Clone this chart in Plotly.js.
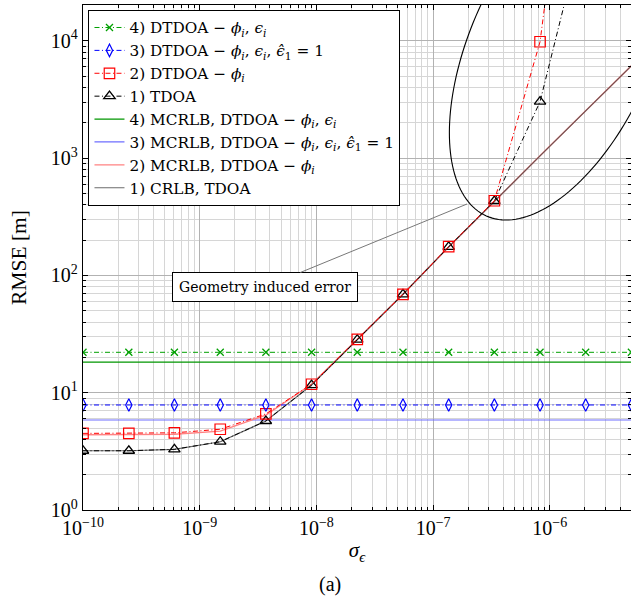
<!DOCTYPE html>
<html>
<head>
<meta charset="utf-8">
<script src="https://cdn.plot.ly/plotly-3.0.1.min.js"></script>
<style>html,body{margin:0;padding:0;background:#fff;overflow:hidden}#chart{width:631px;height:606px}</style>
</head>
<body>
<div id="chart"></div>
<script>
// ---- data ----
const sigma = [1e-10, 2.47e-10, 6.07e-10, 1.50e-9, 3.69e-9, 9.09e-9, 2.24e-8, 5.52e-8, 1.36e-7, 3.35e-7, 8.25e-7, 2.03e-6, 5.0e-6];
const dtdoa4 = [22.1, 22.1, 22.1, 22.1, 22.1, 22.1, 22.1, 22.1, 22.1, 22.1, 22.1, 22.1, 22.1];
const dtdoa3 = [7.86, 7.86, 7.86, 7.86, 7.86, 7.86, 7.86, 7.86, 7.86, 7.86, 7.86, 7.86, 7.86];
const dtdoa2 = [4.5, 4.5, 4.55, 4.88, 6.6, 11.8, 28.5, 69, 176, 433, 9820, 1.0e7];
const tdoa1 = [3.2, 3.2, 3.29, 3.82, 5.74, 11.6, 28.3, 69, 175, 431, 3030, 1.1e5];
const mcrlb4 = [18.2, 18.2, 18.2, 18.2, 18.2, 18.2, 18.2, 18.2, 18.2, 18.2, 18.2, 18.2, 18.2];
const mcrlb3 = [5.85, 5.85, 5.85, 5.85, 5.85, 5.85, 5.85, 5.85, 5.85, 5.85, 5.85, 5.85, 5.85];
const mcrlb2 = [4.38, 4.38, 4.42, 4.7, 6.45, 11.8, 28.3, 69, 175, 431, 1045, 2530, 6120];
const crlb1 = [3.2, 3.2, 3.29, 3.82, 5.74, 11.6, 28.3, 69, 175, 431, 1045, 2530, 6120];
const xTickVals = [1e-10, 1e-9, 1e-8, 1e-7, 1e-6];
const xTickText = ['10<sup>−10</sup>', '10<sup>−9</sup>', '10<sup>−8</sup>', '10<sup>−7</sup>', '10<sup>−6</sup>'];
const yTickVals = [1, 10, 100, 1000, 10000];
const yTickText = ['10<sup>0</sup>', '10<sup>1</sup>', '10<sup>2</sup>', '10<sup>3</sup>', '10<sup>4</sup>'];
const HAT = '<i>ϵ̂</i><sub>1</sub>';
const names = {
  d4: '4) DTDOA − <i>ϕ</i><sub><i>i</i></sub>, <i>ϵ</i><sub><i>i</i></sub>',
  d3: '3) DTDOA − <i>ϕ</i><sub><i>i</i></sub>, <i>ϵ</i><sub><i>i</i></sub>, ' + HAT + ' = 1',
  d2: '2) DTDOA − <i>ϕ</i><sub><i>i</i></sub>',
  t1: '1) TDOA',
  m4: '4) MCRLB, DTDOA − <i>ϕ</i><sub><i>i</i></sub>, <i>ϵ</i><sub><i>i</i></sub>',
  m3: '3) MCRLB, DTDOA − <i>ϕ</i><sub><i>i</i></sub>, <i>ϵ</i><sub><i>i</i></sub>, ' + HAT + ' = 1',
  m2: '2) MCRLB, DTDOA − <i>ϕ</i><sub><i>i</i></sub>',
  c1: '1) CRLB, TDOA'
};

// ---- layout constants ----
const FONT = '"Liberation Serif", serif';
const FONT2 = '"DejaVu Serif", serif';
const M = {l: 83, r: 0, t: 5, b: 96};
const W = 631, H = 606;
const xr = [-10, -10 + (W - M.l - M.r) / 116.7];
const yr = [0, (H - M.t - M.b) / 117.3];
const pw = W - M.l - M.r, ph = H - M.t - M.b;
function px2x(px) { return Math.pow(10, xr[0] + (px - M.l) / pw * (xr[1] - xr[0])); }
function py2y(py) { return Math.pow(10, yr[0] + (M.t + ph - py) / ph * (yr[1] - yr[0])); }

const DD = '5px,2.5px,1px,2.5px';
const traces = [
  {x: sigma, y: mcrlb4, name: names.m4, legendrank: 5, mode: 'lines', line: {color: 'rgb(0,150,0)', width: 1.2}},
  {x: sigma, y: mcrlb3, name: names.m3, legendrank: 6, mode: 'lines', line: {color: 'rgb(110,110,255)', width: 1.2}},
  {x: sigma, y: mcrlb2, name: names.m2, legendrank: 7, mode: 'lines', line: {color: 'rgb(255,130,130)', width: 1.4}},
  {x: sigma, y: crlb1, name: names.c1, legendrank: 8, mode: 'lines', opacity: 0.8, line: {color: 'rgb(70,70,70)', width: 1.2}},
  {x: sigma.slice(0, tdoa1.length), y: tdoa1, name: names.t1, legendrank: 4, mode: 'lines+markers',
   line: {color: 'black', width: 1, dash: DD}, marker: {symbol: 'triangle-up-open', size: 10, color: 'black', line: {width: 1.3}}},
  {x: sigma.slice(0, dtdoa2.length), y: dtdoa2, name: names.d2, legendrank: 3, mode: 'lines+markers',
   line: {color: 'rgb(255,0,0)', width: 1, dash: DD}, marker: {symbol: 'square-open', size: 10.5, color: 'rgb(255,0,0)', line: {width: 1.2}}},
  {x: sigma, y: dtdoa3, name: names.d3, legendrank: 2, mode: 'lines+markers',
   line: {color: 'rgb(0,0,255)', width: 1, dash: DD}, marker: {symbol: 'diamond-tall-open', size: 9, color: 'rgb(0,0,255)', line: {width: 1.2}}},
  {x: sigma, y: dtdoa4, name: names.d4, legendrank: 1, mode: 'lines+markers',
   line: {color: 'rgb(0,160,0)', width: 1, dash: DD}, marker: {symbol: 'x-thin-open', size: 7, color: 'rgb(0,160,0)', line: {width: 1.3}}}
];

// minor tick positions (2..9 of each decade)
function minorVals(d0, d1) { const v = []; for (let d = d0; d <= d1; d++) for (let k = 2; k <= 9; k++) v.push(k * Math.pow(10, d)); return v; }

// ellipse annotation (pixel-space parameters converted to data coords)
const ell = {cx: 561.6, cy: 47.7, a: 184.3, b: 91.2, ang: 65.9};
let path = '';
{
  const r = ell.ang * Math.PI / 180;
  const u = [Math.cos(r), -Math.sin(r)], v = [Math.sin(r), Math.cos(r)];
  for (let i = 0; i <= 180; i++) {
    const t = i / 180 * 2 * Math.PI;
    const px = ell.cx + ell.a * Math.cos(t) * u[0] + ell.b * Math.sin(t) * v[0];
    const py = ell.cy + ell.a * Math.cos(t) * u[1] + ell.b * Math.sin(t) * v[1];
    path += (i === 0 ? 'M' : 'L') + px2x(px) + ',' + py2y(py) + ' ';
  }
  path += 'Z';
}

const axBase = {
  type: 'log', showline: true, linecolor: 'black', linewidth: 1.2, mirror: 'ticks',
  ticks: 'inside', ticklen: 5, tickcolor: 'black', tickwidth: 1,
  showgrid: true, gridcolor: 'rgb(178,178,178)', gridwidth: 1, zeroline: false,
  tickfont: {family: FONT, size: 20, color: 'black'}
};

const layout = {
  width: W, height: H, margin: M,
  paper_bgcolor: 'white', plot_bgcolor: 'white',
  font: {family: FONT, color: 'black'},
  showlegend: true,
  legend: {x: 0.01, y: 0.99, xanchor: 'left', yanchor: 'top', bgcolor: 'white', bordercolor: 'black', borderwidth: 1,
           font: {family: FONT2, size: 15.3, color: 'black'}, traceorder: 'normal'},
  xaxis: Object.assign({}, axBase, {
    range: xr, tickmode: 'array', tickvals: xTickVals, ticktext: xTickText,
    minor: {tickmode: 'array', tickvals: minorVals(-10, -6), ticks: 'inside', ticklen: 3, tickcolor: 'black', showgrid: true, gridcolor: 'rgb(214,214,214)', gridwidth: 1},
    title: {text: '<i>σ</i><sub><i>ϵ</i></sub>', font: {family: FONT, size: 21}, standoff: 4}
  }),
  yaxis: Object.assign({}, axBase, {
    range: yr, tickmode: 'array', tickvals: yTickVals, ticktext: yTickText,
    minor: {tickmode: 'array', tickvals: minorVals(0, 4), ticks: 'inside', ticklen: 3, tickcolor: 'black', showgrid: true, gridcolor: 'rgb(214,214,214)', gridwidth: 1},
    title: {text: 'RMSE [m]', font: {family: FONT, size: 21.5}, standoff: 18}
  }),
  shapes: [{type: 'path', xref: 'x', yref: 'y', path: path, line: {color: 'black', width: 1.1}, fillcolor: 'rgba(0,0,0,0)', layer: 'above'}],
  annotations: [
    {xref: 'x', yref: 'y', x: Math.log10(px2x(467)), y: Math.log10(py2y(204)), ax: -202, ay: 83,
     showarrow: true, arrowhead: 0, arrowwidth: 1, arrowcolor: 'rgb(120,120,120)', standoff: 0,
     text: 'Geometry induced error', font: {family: FONT2, size: 14, color: 'black'},
     bgcolor: 'white', bordercolor: 'black', borderwidth: 1, borderpad: 6},
    {xref: 'paper', yref: 'paper', x: 0.4507, y: -0.1485, yanchor: 'middle', showarrow: false,
     text: '(a)', font: {family: FONT, size: 20, color: 'black'}}
  ]
};

Plotly.newPlot('chart', traces, layout, {displayModeBar: false, staticPlot: true});
</script>
</body>
</html>
